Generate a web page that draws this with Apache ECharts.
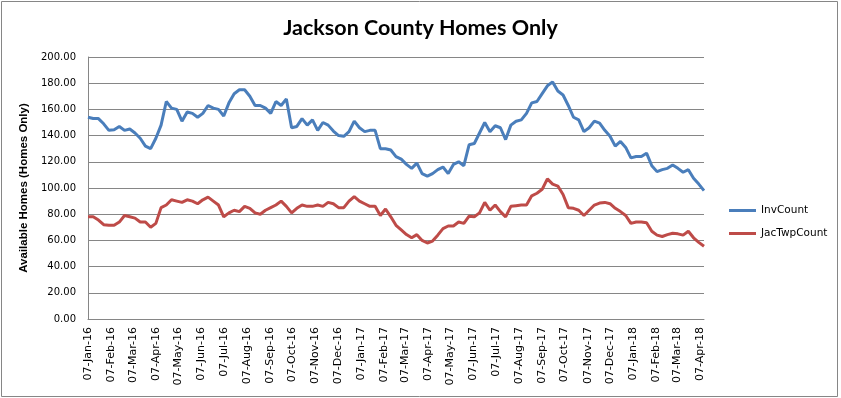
<!DOCTYPE html>
<html>
<head>
<meta charset="utf-8">
<script src="https://cdn.jsdelivr.net/npm/echarts@6/dist/echarts.min.js"></script>
<style>
  html, body { margin: 0; padding: 0; background: #fff; }
  #chart { width: 841px; height: 398px; }
</style>
</head>
<body>
<div id="chart"></div>
<script>
// readings, one every 7 days starting 07-Jan-16
const startDate = '2016-01-07'
const stepDays = 7
const dayCount = 827

const invCount = [
  154, 153, 153, 149, 144, 144.5, 147, 144, 145, 142, 138, 132, 130, 138, 148, 166, 161, 160, 151, 158,
  157, 154, 157, 163, 161, 160, 155, 165, 172, 175, 175, 170, 163, 163, 161, 157, 166, 163, 168, 146,
  147, 153, 148, 152, 144, 150, 148, 143.5, 140, 139.5, 143, 151, 146, 143, 144, 144, 130, 130, 129, 124,
  122, 118, 115, 119, 111, 109, 111, 114, 116, 111, 118, 120, 117, 133, 134, 142, 150, 143, 147.5, 146,
  137, 148, 151, 152, 157, 165, 166, 172, 178, 181, 174, 171, 163, 154, 152, 143, 146, 151, 149.5, 144,
  139.5, 132, 135.5, 131, 123, 124, 124, 126.6, 117, 112.5, 114, 115, 117.6, 115, 112, 114, 107.5, 103, 98
]
const jacTwpCount = [
  78, 78, 75.5, 72, 71.5, 71.5, 74, 79, 78, 77, 74, 74, 70, 73, 85, 87, 91, 90, 89, 91,
  90, 88, 91, 93, 90, 87, 78, 81, 83, 82, 86, 84.5, 81, 80, 83, 85, 87, 90, 86, 81,
  84.5, 87, 86, 86, 87, 86, 89, 88, 85, 85, 90, 93.5, 90, 88, 86, 86, 79, 84, 78, 71.5,
  68, 64.5, 62, 64.4, 60, 58, 59.5, 64, 69, 71, 71, 74, 73, 78.5, 78, 81, 89, 83, 87, 82,
  78, 86, 86.5, 87, 87, 94, 96, 99, 107, 103, 101.5, 95, 85, 84.5, 83, 79, 83, 87, 88.5, 89,
  88, 84.5, 82, 79, 73, 74, 74, 73.5, 67, 64, 63, 64.4, 65.5, 65, 64, 67, 62, 58.5, 55.5
]
const seriesNames = ['InvCount', 'JacTwpCount']

const tickLabels = [
  '07-Jan-16', '07-Feb-16', '07-Mar-16', '07-Apr-16', '07-May-16', '07-Jun-16', '07-Jul-16',
  '07-Aug-16', '07-Sep-16', '07-Oct-16', '07-Nov-16', '07-Dec-16', '07-Jan-17', '07-Feb-17',
  '07-Mar-17', '07-Apr-17', '07-May-17', '07-Jun-17', '07-Jul-17', '07-Aug-17', '07-Sep-17',
  '07-Oct-17', '07-Nov-17', '07-Dec-17', '07-Jan-18', '07-Feb-18', '07-Mar-18', '07-Apr-18'
]

// one category per day
const monthNames = ['Jan', 'Feb', 'Mar', 'Apr', 'May', 'Jun', 'Jul', 'Aug', 'Sep', 'Oct', 'Nov', 'Dec']
const t0 = new Date(startDate + 'T00:00:00Z').getTime()
const days = []
for (let i = 0; i < dayCount; i++) {
  const d = new Date(t0 + i * 86400000)
  const dd = ('0' + d.getUTCDate()).slice(-2)
  days.push(dd + '-' + monthNames[d.getUTCMonth()] + '-' + String(d.getUTCFullYear()).slice(2))
}

function toPoints(values) {
  return values.map((v, i) => [days[i * stepDays], v])
}

const chart = echarts.init(document.getElementById('chart'))

const gray = '#868686'
let option = {
  animation: false,
  title: {
    text: 'Jackson County Homes Only',
    left: 'center',
    top: 12,
    textStyle: { fontFamily: 'Lato', fontWeight: 'bold', fontSize: 21.5, color: '#000' }
  },
  legend: {
    orient: 'vertical',
    left: 724,
    top: 200,
    itemWidth: 27,
    itemHeight: 3,
    itemGap: 12,
    icon: 'rect',
    textStyle: { fontFamily: 'DejaVu Sans', fontSize: 10.5, color: '#000' },
    data: seriesNames
  },
  grid: { left: 88, right: 137, top: 57, bottom: 79 },
  xAxis: {
    type: 'category',
    data: days,
    boundaryGap: false,
    axisLine: { lineStyle: { color: gray } },
    axisTick: { show: false },
    axisLabel: {
      rotate: 90,
      margin: 8,
      fontFamily: 'DejaVu Sans',
      fontSize: 11,
      color: '#000',
      interval: (index, value) => tickLabels.indexOf(value) >= 0
    },
    splitLine: { show: false }
  },
  yAxis: {
    type: 'value',
    min: 0,
    max: 200,
    interval: 20,
    name: 'Available Homes (Homes Only)',
    nameLocation: 'middle',
    nameGap: 54,
    nameTextStyle: { fontFamily: 'Liberation Sans', fontWeight: 'bold', fontSize: 11.5, color: '#000' },
    axisLine: { show: true, lineStyle: { color: gray } },
    axisTick: { show: false },
    axisLabel: {
      margin: 12,
      fontFamily: 'DejaVu Sans',
      fontSize: 10,
      color: '#000',
      formatter: v => v.toFixed(2)
    },
    splitLine: { lineStyle: { color: gray, width: 1 } }
  },
  series: [{
    name: seriesNames[0],
    type: 'line',
    data: toPoints(invCount),
    showSymbol: false,
    lineStyle: { color: '#4A7EBB', width: 3 },
    itemStyle: { color: '#4A7EBB' }
  }, {
    name: seriesNames[1],
    type: 'line',
    data: toPoints(jacTwpCount),
    showSymbol: false,
    lineStyle: { color: '#BE4B48', width: 3 },
    itemStyle: { color: '#BE4B48' }
  }],
  graphic: [{
    type: 'rect',
    shape: { x: 1.5, y: 1.5, width: 836, height: 395 },
    style: { fill: 'none', stroke: gray, lineWidth: 1 },
    silent: true
  }]
}

chart.setOption(option)
</script>
</body>
</html>
